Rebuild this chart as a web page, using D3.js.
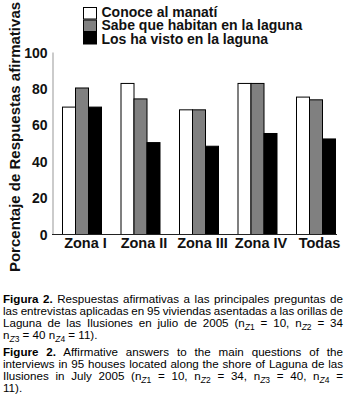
<!DOCTYPE html>
<html>
<head>
<meta charset="utf-8">
<script src="https://cdn.jsdelivr.net/npm/d3@7/dist/d3.min.js"></script>
<style>
  html, body { margin: 0; padding: 0; background: #fff; }
  svg { display: block; }
</style>
</head>
<body>
<svg id="chart" width="353" height="412"></svg>
<script>
// ---- data ----
const categories = ["Zona I", "Zona II", "Zona III", "Zona IV", "Todas"];
const seriesNames = ["Conoce al manatí", "Sabe que habitan en la laguna", "Los ha visto en la laguna"];
const conoce = [70, 83, 68.5, 83, 75.5];
const sabe   = [80.5, 74.5, 68.5, 83, 74];
const visto  = [70, 50.5, 48.5, 55.5, 52.5];
const yTicks = [0, 20, 40, 60, 80, 100];
const yTitle = "Porcentaje de Respuestas afirmativas";

// caption lines: segments [text, style] style: b=bold, n=normal, s=subscript(italic Z + digit)
const captionLines = [
  {y: 303, just: true,  segs: [["Figura 2.", "b"], [" Respuestas afirmativas a las principales preguntas de", "n"]]},
  {y: 315, just: true,  segs: [["las entrevistas aplicadas en 95 viviendas asentadas a las orillas de", "n"]]},
  {y: 327, just: true,  segs: [["Laguna de las Ilusiones en julio de 2005 (n", "n"], ["1", "s"], [" = 10, n", "n"], ["2", "s"], [" = 34", "n"]]},
  {y: 339, just: false, segs: [["n", "n"], ["3", "s"], [" = 40 n", "n"], ["4", "s"], [" = 11).", "n"]]},
  {y: 356, just: true,  segs: [["Figure 2.", "b"], [" Affirmative answers to the main questions of the", "n"]]},
  {y: 368, just: true,  segs: [["interviews in 95 houses located along the shore of Laguna de las", "n"]]},
  {y: 380, just: true,  segs: [["Ilusiones in July 2005 (n", "n"], ["1", "s"], [" = 10, n", "n"], ["2", "s"], [" = 34, n", "n"], ["3", "s"], [" = 40, n", "n"], ["4", "s"], [" =", "n"]]},
  {y: 392, just: false, segs: [["11).", "n"]]}
];

const series = [conoce, sabe, visto];
const fills = ["#ffffff", "#808080", "#000000"];

const svg = d3.select("#chart");
const chartFont = "'Liberation Sans', Arial, sans-serif";

const x0 = d3.scaleBand().domain(categories).range([62, 335]).paddingInner(1/3).paddingOuter(0);
const x1 = d3.scaleBand().domain(d3.range(series.length)).range([0, x0.bandwidth()]);
const y = d3.scaleLinear().domain([0, 100]).range([234, 52]);

// bars
const groups = svg.append("g").selectAll("g").data(categories).join("g")
  .attr("transform", d => `translate(${x0(d)},0)`);
groups.selectAll("rect")
  .data((d, i) => series.map((s, k) => ({k, v: s[i]})))
  .join("rect")
  .attr("x", d => x1(d.k) + 0.5)
  .attr("y", d => y(d.v) + 0.5)
  .attr("width", x1.bandwidth())
  .attr("height", d => y(0) - y(d.v))
  .attr("fill", d => fills[d.k])
  .attr("stroke", "#000")
  .attr("stroke-width", 1);

// y axis
const yAxis = svg.append("g").attr("transform", "translate(52.5,0)")
  .call(d3.axisLeft(y).tickValues(yTicks).tickSize(0).tickPadding(5));
yAxis.select(".domain").attr("stroke", "#a8a8a8").attr("stroke-width", 1.2);
yAxis.selectAll("text").attr("font-family", chartFont).attr("font-weight", "bold")
  .attr("font-size", "14px").attr("fill", "#111").attr("dy", "0.36em");

// baseline
svg.append("line").attr("x1", 52).attr("x2", 337).attr("y1", y(0) + 0.5).attr("y2", y(0) + 0.5)
  .attr("stroke", "#222").attr("stroke-width", 1.2);

// x axis labels
const xAxis = svg.append("g").attr("transform", `translate(4,${y(0)})`)
  .call(d3.axisBottom(x0).tickSize(0).tickPadding(4));
xAxis.select(".domain").remove();
xAxis.selectAll("text").attr("font-family", chartFont).attr("font-weight", "bold")
  .attr("font-size", "14.5px").attr("fill", "#111").attr("dy", "0.71em");

// y title
svg.append("text")
  .attr("transform", "translate(20,137) rotate(-90)")
  .attr("text-anchor", "middle")
  .attr("font-family", chartFont).attr("font-weight", "bold").attr("font-size", "15px")
  .attr("fill", "#111")
  .text(yTitle);

// legend
const leg = svg.append("g").selectAll("g").data(seriesNames).join("g");
leg.append("rect")
  .attr("x", 83.5).attr("y", (d, i) => 7.5 + i * 12.5)
  .attr("width", 13).attr("height", 11.5)
  .attr("fill", (d, i) => fills[i]).attr("stroke", "#000");
leg.append("text")
  .attr("x", 101.5).attr("y", (d, i) => 16.5 + i * 13.5)
  .attr("font-family", chartFont).attr("font-weight", "bold").attr("font-size", "14px")
  .attr("fill", "#111")
  .text(d => d);

// caption
const capFont = "'Liberation Sans', Arial, sans-serif";
const capLeft = 3, capRight = 343;
captionLines.forEach(line => {
  const t = svg.append("text").attr("x", capLeft).attr("y", line.y)
    .attr("font-family", capFont).attr("font-size", "11.6px").attr("fill", "#000")
    .style("white-space", "pre");
  let shift = 0;
  line.segs.forEach(([txt, st]) => {
    if (st === "s") {
      t.append("tspan").attr("dy", 2.5).attr("font-size", "8.5px").attr("font-style", "italic").text("Z");
      t.append("tspan").attr("font-size", "8.5px").text(txt);
      shift = -2.5;
    } else {
      const sp = t.append("tspan").text(txt);
      if (shift) { sp.attr("dy", shift); shift = 0; }
      if (st === "b") sp.attr("font-weight", "bold");
    }
  });
  if (line.just) {
    const w = t.node().getComputedTextLength();
    const full = line.segs.map(s => s[0]).join("");
    const nSpaces = (full.match(/ /g) || []).length;
    if (nSpaces > 0) t.style("word-spacing", ((capRight - capLeft - w) / nSpaces) + "px");
  }
});
</script>
</body>
</html>
